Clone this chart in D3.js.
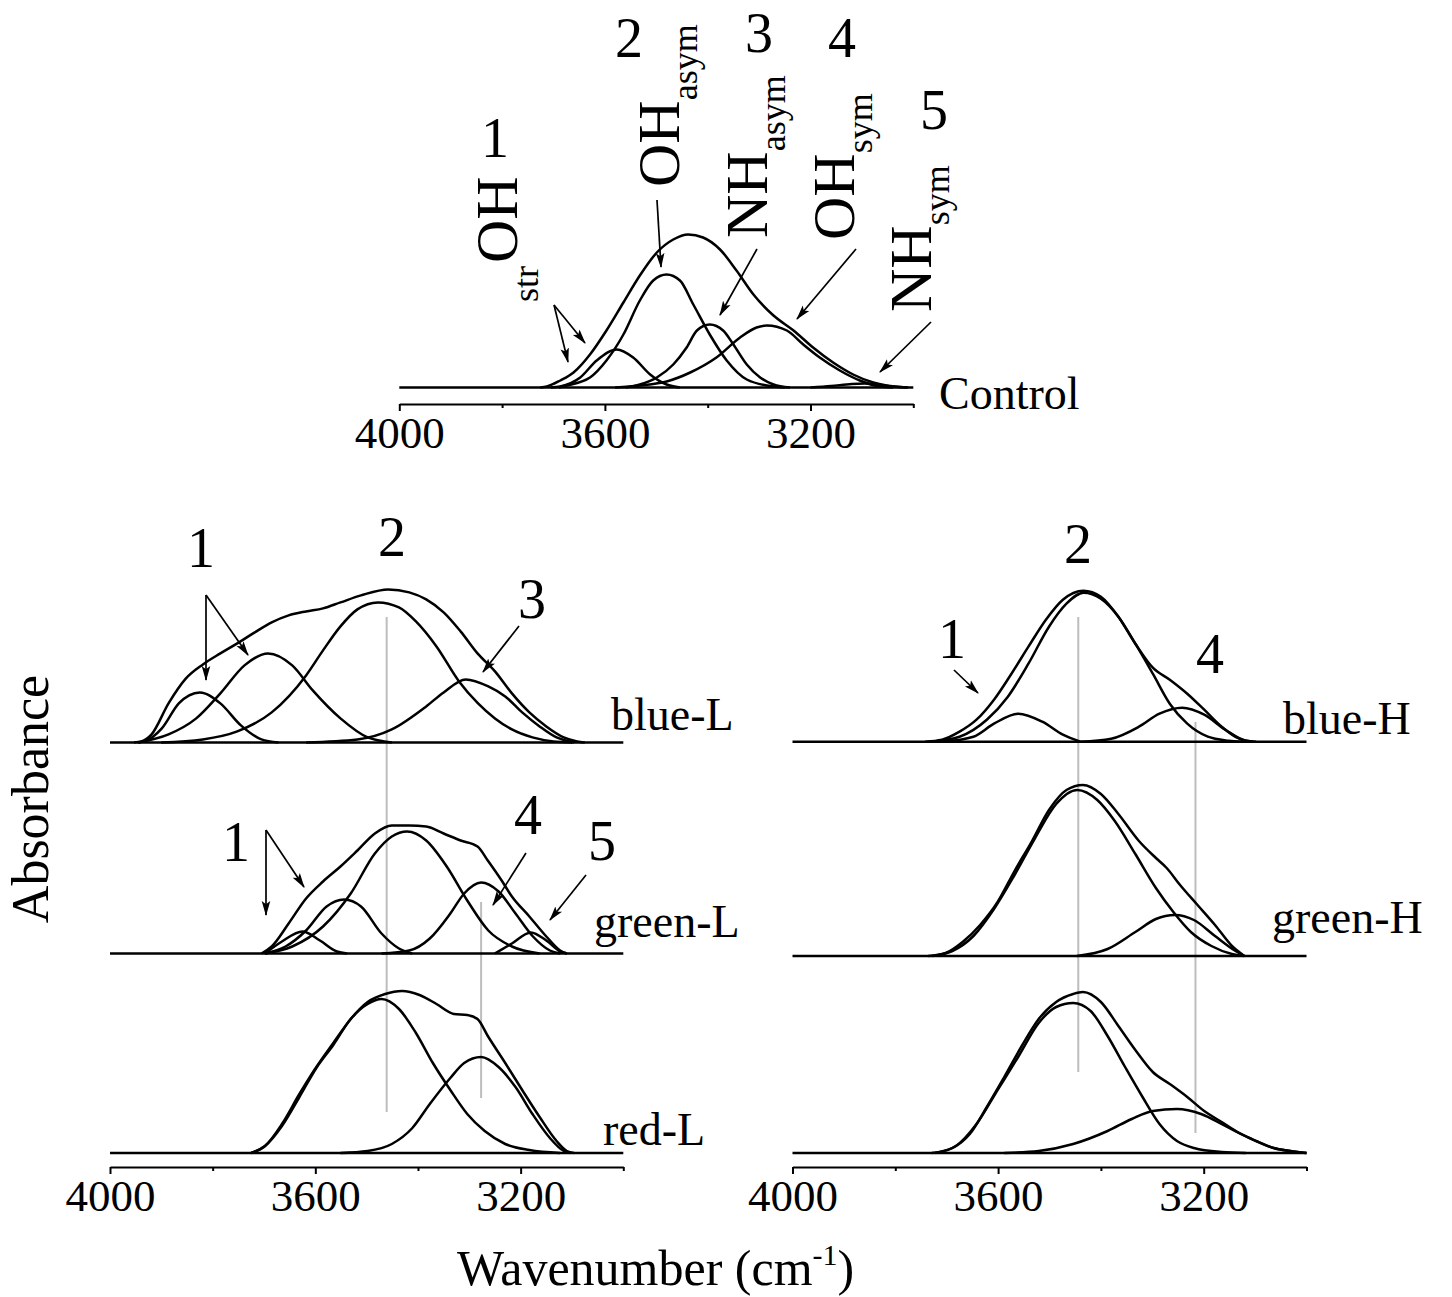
<!DOCTYPE html>
<html lang="en">
<head>
<meta charset="UTF-8">
<title>OH / NH band deconvolution</title>
<script src="https://cdnjs.cloudflare.com/ajax/libs/d3/7.8.5/d3.min.js"></script>
<style>
  body { margin: 0; background: #fff; }
  svg { display: block; }
  text { font-family: "Liberation Serif", "Times New Roman", serif; fill: #000; }
  .curve { fill: none; stroke: #000; stroke-width: 2.5; stroke-linejoin: round; }
  .guide { stroke: #bdbdbd; stroke-width: 2; }
  .arrow { stroke: #000; stroke-width: 1.7; fill: none; }
  .axis path, .axis line { stroke: #000; stroke-width: 2; }
</style>
</head>
<body>
<svg id="chart" width="1452" height="1297"></svg>
<script>
// ---- data: [wavenumber cm-1, absorbance a.u.] ----
const majorTicks = [4000, 3600, 3200];
const minorTicks = [3800, 3400, 3000];

// Control
const controlEnv = [[3726,0],[3713,0.01],[3687,0.07],[3661,0.15],[3629,0.33],[3597,0.57],[3564,0.85],[3532,1.12],[3499,1.35],[3467,1.48],[3438,1.53],[3409,1.50],[3376,1.38],[3344,1.17],[3311,0.93],[3272,0.72],[3233,0.57],[3195,0.40],[3156,0.25],[3117,0.13],[3078,0.05],[3052,0.02],[3013,0]];
const controlC1 = [[3705,0],[3687,0.01],[3648,0.10],[3616,0.27],[3577,0.38],[3545,0.30],[3512,0.13],[3480,0.03],[3454,0]];
const controlC2 = [[3690,0],[3674,0.02],[3629,0.10],[3597,0.27],[3564,0.53],[3532,0.87],[3506,1.07],[3480,1.13],[3454,1.07],[3428,0.83],[3396,0.53],[3363,0.27],[3324,0.08],[3272,0.01],[3250,0]];
const controlC3 = [[3560,0],[3532,0.03],[3499,0.10],[3467,0.23],[3441,0.40],[3421,0.57],[3396,0.63],[3370,0.57],[3350,0.43],[3324,0.23],[3298,0.10],[3272,0.03],[3240,0]];
const controlC4 = [[3580,0],[3532,0.02],[3480,0.06],[3434,0.15],[3383,0.30],[3337,0.50],[3305,0.60],[3285,0.62],[3246,0.57],[3214,0.43],[3182,0.30],[3143,0.17],[3104,0.07],[3065,0.01],[3040,0]];
const controlC5 = [[3200,0],[3160,0.015],[3120,0.035],[3095,0.04],[3070,0.03],[3040,0.01],[3010,0]];

// blue-L
const blueLEnv = [[3953,0],[3939,0.01],[3919,0.08],[3886,0.39],[3852,0.64],[3819,0.78],[3785,0.89],[3752,0.99],[3718,1.10],[3685,1.20],[3652,1.27],[3618,1.31],[3585,1.34],[3551,1.40],[3511,1.47],[3458,1.53],[3417,1.50],[3384,1.43],[3350,1.30],[3317,1.11],[3284,0.89],[3250,0.71],[3217,0.49],[3183,0.30],[3150,0.16],[3116,0.05],[3090,0.01],[3075,0]];
const blueL1a = [[3945,0],[3933,0.01],[3899,0.14],[3866,0.39],[3825,0.50],[3785,0.39],[3745,0.17],[3705,0.03],[3672,0]];
const blueL1b = [[3945,0],[3886,0.08],[3832,0.24],[3785,0.49],[3738,0.77],[3692,0.89],[3645,0.77],[3605,0.52],[3551,0.24],[3498,0.05],[3451,0]];
const blueL2 = [[3900,0],[3819,0.03],[3752,0.11],[3685,0.30],[3618,0.67],[3585,0.92],[3551,1.16],[3518,1.33],[3478,1.40],[3437,1.35],[3404,1.21],[3364,0.96],[3320,0.61],[3283,0.39],[3250,0.24],[3217,0.13],[3177,0.05],[3136,0.01],[3100,0]];
const blueL3 = [[3618,0],[3518,0.03],[3451,0.13],[3384,0.36],[3350,0.50],[3307,0.63],[3263,0.56],[3230,0.46],[3197,0.30],[3163,0.16],[3130,0.05],[3096,0]];

// green-L
const greenLEnv = [[3705,0],[3685,0.07],[3652,0.30],[3618,0.55],[3585,0.72],[3551,0.87],[3518,1.03],[3484,1.20],[3451,1.28],[3417,1.28],[3384,1.27],[3350,1.20],[3317,1.13],[3284,1.07],[3264,0.93],[3237,0.73],[3217,0.57],[3183,0.37],[3150,0.17],[3123,0.03],[3110,0]];
const greenL1a = [[3698,0],[3665,0.12],[3625,0.22],[3591,0.13],[3558,0.02],[3538,0]];
const greenL1b = [[3698,0],[3658,0.07],[3618,0.23],[3578,0.47],[3544,0.54],[3511,0.47],[3471,0.20],[3437,0.05],[3411,0]];
const greenL2 = [[3698,0],[3645,0.07],[3585,0.27],[3531,0.60],[3484,1.00],[3451,1.17],[3421,1.22],[3384,1.13],[3344,0.87],[3304,0.53],[3263,0.23],[3217,0.07],[3163,0]];
const greenL4 = [[3471,0],[3417,0.03],[3377,0.15],[3337,0.40],[3310,0.60],[3277,0.71],[3243,0.62],[3210,0.40],[3176,0.17],[3143,0.03],[3123,0]];
const greenL5 = [[3250,0],[3217,0.10],[3180,0.21],[3150,0.13],[3123,0.02],[3110,0]];

// red-L
const redLEnv = [[3725,0],[3698,0.07],[3665,0.29],[3631,0.59],[3598,0.86],[3565,1.10],[3531,1.34],[3498,1.51],[3464,1.59],[3431,1.62],[3397,1.58],[3364,1.49],[3330,1.39],[3304,1.38],[3284,1.34],[3264,1.17],[3230,0.90],[3197,0.63],[3163,0.36],[3130,0.12],[3110,0.02],[3096,0]];
const redL2 = [[3725,0],[3698,0.07],[3665,0.27],[3631,0.56],[3598,0.85],[3565,1.08],[3531,1.34],[3498,1.49],[3471,1.54],[3437,1.44],[3404,1.20],[3371,0.90],[3337,0.63],[3304,0.39],[3270,0.22],[3230,0.09],[3183,0.03],[3123,0]];
const redL4 = [[3551,0],[3498,0.02],[3451,0.09],[3411,0.25],[3377,0.49],[3337,0.75],[3310,0.90],[3277,0.96],[3243,0.86],[3210,0.66],[3177,0.39],[3143,0.15],[3116,0.02],[3103,0]];

// blue-H
const blueHEnv = [[3742,0],[3709,0.02],[3675,0.10],[3642,0.22],[3608,0.42],[3574,0.68],[3541,0.95],[3507,1.22],[3474,1.42],[3434,1.51],[3400,1.45],[3366,1.25],[3333,0.98],[3299,0.74],[3266,0.62],[3232,0.48],[3199,0.32],[3165,0.15],[3131,0.03],[3105,0]];
const blueH1 = [[3709,0],[3648,0.05],[3608,0.18],[3561,0.28],[3514,0.20],[3474,0.07],[3440,0]];
const blueH2 = [[3729,0],[3675,0.05],[3622,0.22],[3581,0.45],[3541,0.78],[3501,1.15],[3467,1.38],[3434,1.49],[3400,1.43],[3366,1.25],[3333,0.98],[3299,0.68],[3266,0.38],[3232,0.18],[3192,0.05],[3152,0.01],[3125,0]];
const blueH4 = [[3440,0],[3380,0.03],[3326,0.15],[3286,0.28],[3242,0.34],[3199,0.27],[3158,0.12],[3118,0.01],[3098,0]];

// green-H
const greenHEnv = [[3736,0],[3702,0.03],[3669,0.14],[3635,0.31],[3601,0.54],[3568,0.85],[3534,1.15],[3501,1.46],[3467,1.66],[3435,1.71],[3400,1.62],[3366,1.42],[3326,1.15],[3293,0.98],[3272,0.88],[3246,0.71],[3212,0.51],[3178,0.31],[3145,0.10],[3121,0]];
const greenH2 = [[3729,0],[3689,0.05],[3648,0.20],[3608,0.47],[3568,0.81],[3528,1.18],[3487,1.52],[3446,1.66],[3407,1.56],[3373,1.35],[3333,1.02],[3293,0.68],[3259,0.44],[3225,0.24],[3185,0.10],[3145,0.02],[3121,0]];
const greenH4 = [[3447,0],[3387,0.07],[3333,0.24],[3293,0.37],[3256,0.41],[3219,0.36],[3178,0.20],[3138,0.05],[3121,0]];

// red-H
const redHEnv = [[3729,0],[3689,0.05],[3655,0.19],[3622,0.46],[3588,0.76],[3554,1.07],[3521,1.34],[3487,1.51],[3454,1.59],[3435,1.61],[3400,1.51],[3366,1.27],[3333,1.03],[3299,0.81],[3266,0.69],[3232,0.56],[3199,0.42],[3165,0.31],[3131,0.20],[3098,0.12],[3064,0.05],[3031,0.02],[3000,0]];
const redH2 = [[3722,0],[3682,0.07],[3642,0.29],[3601,0.63],[3561,0.96],[3521,1.30],[3487,1.46],[3454,1.50],[3420,1.42],[3387,1.17],[3353,0.86],[3319,0.56],[3286,0.29],[3252,0.12],[3219,0.05],[3165,0.01],[3118,0]];
const redH4 = [[3588,0],[3521,0.02],[3454,0.09],[3387,0.22],[3340,0.34],[3299,0.42],[3252,0.44],[3205,0.39],[3158,0.27],[3111,0.15],[3064,0.05],[3017,0.01],[3000,0]];

// grey guide lines (band positions, cm-1)
const guidesL = [3461, 3277];
const guidesH = [3444, 3216];

// ---- layout ----
const svg = d3.select("#chart");
const defs = svg.append("defs");
defs.append("marker")
  .attr("id", "head").attr("viewBox", "0 0 14 10")
  .attr("refX", 13).attr("refY", 5)
  .attr("markerWidth", 15).attr("markerHeight", 11)
  .attr("markerUnits", "userSpaceOnUse").attr("orient", "auto")
  .append("path").attr("d", "M0,1 L14,5 L0,9 L3,5 Z").attr("fill", "#000");

const xTop = d3.scaleLinear().domain([4000, 3000]).range([399.3, 913.3]);
const xLeft = d3.scaleLinear().domain([4000, 3000]).range([110, 623.3]);
const xRight = d3.scaleLinear().domain([4000, 3000]).range([792.5, 1306.5]);

const panels = [
  { x: xTop, base: 387.5, curves: [controlEnv, controlC1, controlC2, controlC3, controlC4, controlC5] },
  { x: xLeft, base: 742.4, curves: [blueLEnv, blueL1a, blueL1b, blueL2, blueL3] },
  { x: xLeft, base: 953.5, curves: [greenLEnv, greenL1a, greenL1b, greenL2, greenL4, greenL5] },
  { x: xLeft, base: 1153, curves: [redLEnv, redL2, redL4] },
  { x: xRight, base: 741.7, curves: [blueHEnv, blueH1, blueH2, blueH4] },
  { x: xRight, base: 956, curves: [greenHEnv, greenH2, greenH4] },
  { x: xRight, base: 1153, curves: [redHEnv, redH2, redH4] }
];

// guides (drawn under the curves)
guidesL.forEach((w, i) => {
  const span = [[617, 1112], [902, 1098]][i];
  svg.append("line").attr("class", "guide")
    .attr("x1", xLeft(w)).attr("x2", xLeft(w)).attr("y1", span[0]).attr("y2", span[1]);
});
guidesH.forEach((w, i) => {
  const span = [[617, 1072], [722, 1133]][i];
  svg.append("line").attr("class", "guide")
    .attr("x1", xRight(w)).attr("x2", xRight(w)).attr("y1", span[0]).attr("y2", span[1]);
});

panels.forEach(p => {
  const y = d3.scaleLinear().domain([0, 1]).range([p.base, p.base - 100]);
  const line = d3.line().x(d => p.x(d[0])).y(d => y(d[1])).curve(d3.curveMonotoneX);
  const dom = p.x.domain();
  svg.append("path").attr("class", "curve").attr("d", line([[dom[0], 0], [dom[1], 0]]));
  svg.selectAll(null).data(p.curves).enter().append("path")
    .attr("class", "curve").attr("d", line);
});

// axes
function drawAxis(x, yPos) {
  svg.append("g").attr("class", "axis").attr("transform", `translate(0,${yPos})`)
    .call(d3.axisBottom(x).tickValues(majorTicks).tickSize(7).tickSizeOuter(0).tickPadding(5).tickFormat(d3.format("d")))
    .call(g => g.selectAll("text").attr("font-size", 45).attr("font-family", null));
  svg.append("g").attr("class", "axis").attr("transform", `translate(0,${yPos})`)
    .call(d3.axisBottom(x).tickValues(minorTicks).tickSize(4).tickSizeOuter(0).tickFormat(""))
    .call(g => g.select(".domain").remove());
}
drawAxis(xTop, 404);
drawAxis(xLeft, 1167);
drawAxis(xRight, 1167);

// arrows
const arrows = [
  [554, 305, 568, 362], [554, 305, 585, 343], [657, 200, 661, 267],
  [757, 249, 720, 315], [856, 249, 797, 319], [931, 322, 880, 372],
  [206, 595, 206, 680], [206, 595, 248, 655], [519, 626, 483, 672],
  [266, 830, 266, 915], [266, 830, 304, 887], [526, 853, 493, 905],
  [586, 875, 550, 920], [954, 670, 978, 693]
];
svg.selectAll(null).data(arrows).enter().append("line")
  .attr("class", "arrow")
  .attr("x1", d => d[0]).attr("y1", d => d[1]).attr("x2", d => d[2]).attr("y2", d => d[3])
  .attr("marker-end", "url(#head)");

// band numbers
const numbers = [
  ["1", 495, 157], ["2", 629, 57], ["3", 759, 52], ["4", 842, 57], ["5", 934, 129],
  ["1", 201, 567], ["2", 392, 556], ["3", 532, 618],
  ["1", 236, 861], ["4", 528, 834], ["5", 602, 860],
  ["2", 1078, 563], ["1", 952, 658], ["4", 1210, 673]
];
svg.selectAll(null).data(numbers).enter().append("text")
  .attr("x", d => d[1]).attr("y", d => d[2])
  .attr("text-anchor", "middle").attr("font-size", 56)
  .text(d => d[0]);

// rotated band assignments: [main, sub, baseline x, start y]
const bands = [
  ["OH", "asym", 679, 187], ["NH", "asym", 767, 238],
  ["OH", "sym", 854, 240], ["NH", "sym", 931, 312]
];
bands.forEach(b => {
  const t = svg.append("text").attr("transform", `translate(${b[2]},${b[3]}) rotate(-90)`)
    .attr("font-size", 60);
  t.append("tspan").text(b[0]);
  t.append("tspan").attr("font-size", 36).attr("dy", 18).text(b[1]);
});
svg.append("text").attr("transform", "translate(517,263) rotate(-90)").attr("font-size", 60).text("OH");
svg.append("text").attr("transform", "translate(538,302) rotate(-90)").attr("font-size", 36).text("str");

// sample labels
const sampleLabels = [
  ["Control", 939, 409], ["blue-L", 611, 730], ["green-L", 594, 937], ["red-L", 603, 1145],
  ["blue-H", 1283, 734], ["green-H", 1272, 933]
];
svg.selectAll(null).data(sampleLabels).enter().append("text")
  .attr("x", d => d[1]).attr("y", d => d[2]).attr("font-size", 46)
  .text(d => d[0]);

// axis titles
svg.append("text").attr("transform", "translate(48,799) rotate(-90)")
  .attr("text-anchor", "middle").attr("font-size", 52).text("Absorbance");
const xt = svg.append("text").attr("x", 457).attr("y", 1285).attr("font-size", 50);
xt.append("tspan").text("Wavenumber (cm");
xt.append("tspan").attr("font-size", 30).attr("dy", -20).text("-1");
xt.append("tspan").attr("dy", 20).text(")");
</script>
</body>
</html>
